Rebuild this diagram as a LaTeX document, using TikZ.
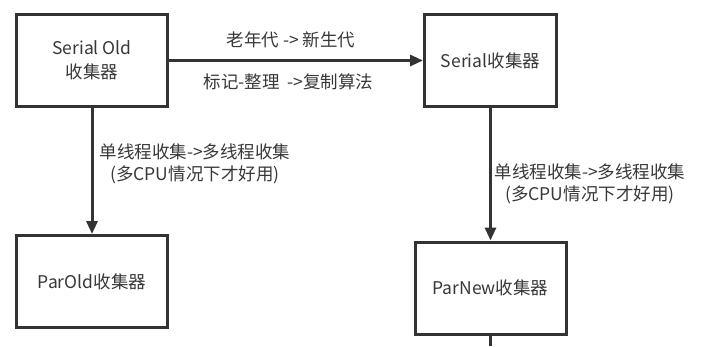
\documentclass[tikz,border=0pt]{standalone}
\usepackage{fontspec}
\setmainfont{Noto Sans CJK SC}
\usetikzlibrary{arrows.meta}
\definecolor{boxline}{HTML}{333333}
\definecolor{labeltext}{HTML}{383838}

\begin{document}
\begin{tikzpicture}[x=1pt, y=-1pt, >={Triangle[length=13pt, width=11pt]}]

  \useasboundingbox (0,0) rectangle (712,346);

  \tikzset{
    gcbox/.style={draw=boxline, line width=3pt, minimum width=151pt, minimum height=92pt,
      text=labeltext, font=\fontsize{17.5}{24}\selectfont, align=center, inner sep=0pt},
    flow/.style={draw=boxline, line width=3pt},
    note/.style={text=labeltext, font=\fontsize{17.5}{22}\selectfont, align=center, inner sep=1pt}
  }

  % Collectors
  \node[gcbox] (serialold) at (92, 60.5) {Serial Old\\收集器};
  \node[gcbox, minimum width=132pt] (serial) at (490.5, 60.5) {Serial收集器};
  \node[gcbox] (parold) at (92, 281.5) {ParOld收集器};
  \node[gcbox] (parnew) at (490.5, 288) {ParNew收集器};
  \coordinate (tail) at (490.5, 346);

  % Old generation -> new generation
  \draw[flow, ->] (serialold) -- (serial)
    node[note, pos=0.48, yshift=21pt] {老年代 -> 新生代}
    node[note, pos=0.47, yshift=-21pt] {标记-整理\ \ ->复制算法};

  % Single thread -> multi thread
  \draw[flow, ->] (serialold) -- (parold)
    node[note, anchor=west, pos=0.44, xshift=5pt] {单线程收集->多线程收集\\(多CPU情况下才好用)};
  \draw[flow, ->] (serial) -- (parnew)
    node[note, anchor=west, pos=0.57, xshift=1.5pt] {单线程收集->多线程收集\\(多CPU情况下才好用)};

  % Continues below
  \draw[flow] (parnew) -- (tail);

\end{tikzpicture}
\end{document}
